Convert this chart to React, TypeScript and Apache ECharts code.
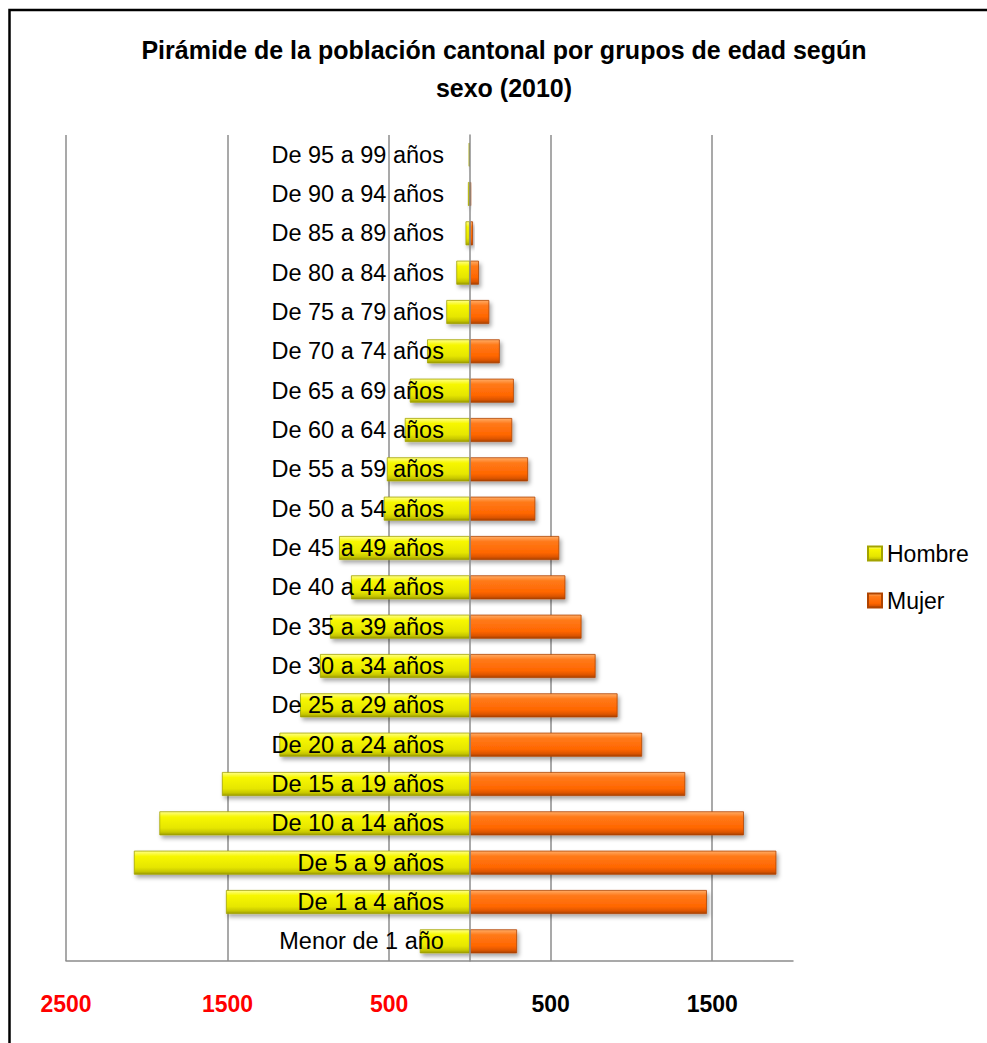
import React, { useEffect, useRef } from 'react';
import * as echarts from 'echarts';

const categories = [
  'Menor de 1 año', 'De 1 a 4 años', 'De 5 a 9 años', 'De 10 a 14 años', 'De 15 a 19 años',
  'De 20 a 24 años', 'De 25 a 29 años', 'De 30 a 34 años', 'De 35 a 39 años', 'De 40 a 44 años',
  'De 45 a 49 años', 'De 50 a 54 años', 'De 55 a 59 años', 'De 60 a 64 años', 'De 65 a 69 años',
  'De 70 a 74 años', 'De 75 a 79 años', 'De 80 a 84 años', 'De 85 a 89 años', 'De 90 a 94 años',
  'De 95 a 99 años',
];
const hombre = [310, 1510, 2080, 1922, 1535, 1179, 1051, 928, 866, 736, 810, 533, 514, 403, 372, 265, 146, 84, 27, 12, 8];
const mujer = [292, 1467, 1897, 1696, 1333, 1066, 914, 778, 691, 591, 553, 405, 360, 262, 272, 185, 120, 56, 19, 8, 4];
const xMin = -2500;
const xMax = 2000;
const xInterval = 1000;
const titleText = 'Pirámide de la población cantonal por grupos de edad según\nsexo (2010)';

const FONT = '"Liberation Sans", Arial, sans-serif';

const GRID_LEFT = 66;
const GRID_RIGHT = 194;
const CHART_W = 987;
// offset that puts the category axis at the value 0 of the x axis
const plotW = CHART_W - GRID_LEFT - GRID_RIGHT;
const zeroOffset = -(plotW * (0 - xMin)) / (xMax - xMin);

const yellowGrad = new echarts.graphic.LinearGradient(0, 0, 0, 1, [
  { offset: 0, color: '#ffff8a' },
  { offset: 0.22, color: '#f7f700' },
  { offset: 0.7, color: '#e6e600' },
  { offset: 0.88, color: '#c8c800' },
  { offset: 1, color: '#9a9a00' },
]);
const orangeGrad = new echarts.graphic.LinearGradient(0, 0, 0, 1, [
  { offset: 0, color: '#ffac66' },
  { offset: 0.22, color: '#ff7a1a' },
  { offset: 0.7, color: '#ff6600' },
  { offset: 0.88, color: '#dd5500' },
  { offset: 1, color: '#a84000' },
]);

export default function App() {
  const ref = useRef<HTMLDivElement>(null);
  useEffect(() => {
    if (!ref.current) return;
    const chart = echarts.init(ref.current, undefined, { renderer: 'svg' });
    chart.setOption({
      animation: false,
      backgroundColor: '#ffffff',
      graphic: [
        {
          type: 'rect',
          z: -10,
          shape: { x: 9.5, y: 10, width: 1100, height: 1200 },
          style: { fill: 'none', stroke: '#000000', lineWidth: 2.5 },
          silent: true,
        },
        {
          type: 'text',
          x: 504,
          y: 31,
          style: {
            text: titleText,
            fontFamily: FONT,
            fontSize: 25,
            fontWeight: 'bold',
            fill: '#000000',
            textAlign: 'center',
            textVerticalAlign: 'top',
            lineHeight: 38,
          },
        },
      ],
      legend: {
        orient: 'vertical',
        left: 862,
        top: 537,
        itemWidth: 14,
        itemHeight: 14,
        itemGap: 24,
        icon: 'rect',
        textStyle: { fontFamily: FONT, fontSize: 23, color: '#000000' },
        data: ['Hombre', 'Mujer'],
      },
      grid: {
        left: GRID_LEFT,
        right: GRID_RIGHT,
        top: 135,
        bottom: 82,
        containLabel: false,
        outerBoundsMode: 'none',
      },
      xAxis: {
        type: 'value',
        min: xMin,
        max: xMax,
        interval: xInterval,
        axisLine: { show: true, lineStyle: { color: '#8c8c8c', width: 1.5 } },
        axisTick: { show: false },
        splitLine: {
          show: true,
          lineStyle: {
            color: ['#8c8c8c', '#8c8c8c', '#8c8c8c', '#8c8c8c', '#8c8c8c', 'rgba(0,0,0,0)'],
            width: 1.5,
          },
        },
        axisLabel: {
          margin: 31,
          fontFamily: FONT,
          fontSize: 23,
          fontWeight: 'bold',
          formatter: (v: number) => (v === xMax ? '' : String(Math.abs(v))),
          color: (v: any) => (Number(v) < 0 ? '#ff0000' : '#000000'),
        },
      },
      yAxis: {
        type: 'category',
        data: categories,
        z: 10,
        offset: zeroOffset,
        axisLine: { show: true, onZero: false, lineStyle: { color: '#8c8c8c', width: 1.5 } },
        axisTick: { show: false },
        splitLine: { show: false },
        axisLabel: { margin: 26, fontFamily: FONT, fontSize: 23.5, color: '#000000' },
      },
      series: [
        {
          name: 'Hombre',
          type: 'bar',
          data: hombre.map((v) => -v),
          barWidth: 24,
          barGap: '-100%',
          itemStyle: {
            color: yellowGrad,
            borderColor: '#a3a300',
            borderWidth: 0.8,
            shadowColor: 'rgba(0,0,0,0.35)',
            shadowBlur: 4,
            shadowOffsetX: 2,
            shadowOffsetY: 3,
          },
        },
        {
          name: 'Mujer',
          type: 'bar',
          data: mujer,
          barWidth: 24,
          barGap: '-100%',
          itemStyle: {
            color: orangeGrad,
            borderColor: '#b04400',
            borderWidth: 0.8,
            shadowColor: 'rgba(0,0,0,0.35)',
            shadowBlur: 4,
            shadowOffsetX: 2,
            shadowOffsetY: 3,
          },
        },
      ],
    });
    return () => chart.dispose();
  }, []);
  return (
    <div
      ref={ref}
      style={{ position: 'fixed', left: 0, top: 0, width: 987, height: 1043, background: '#fff' }}
    />
  );
}
